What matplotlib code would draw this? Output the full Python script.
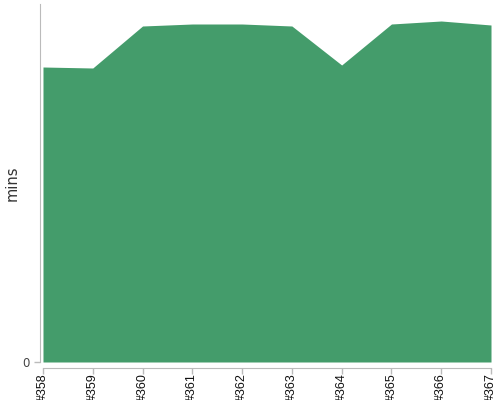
import matplotlib
matplotlib.use('Agg')
import matplotlib.pyplot as plt
import numpy as np

builds = ['#358', '#359', '#360', '#361', '#362', '#363', '#364', '#365', '#366', '#367']
mins = [295, 294, 336, 338, 338, 336, 297, 338, 341, 337]

green = '#449c6b'
grey = '#bbbbbb'

fig = plt.figure(figsize=(5, 4), dpi=100)
ax = fig.add_axes([0.08, 0.095, 0.904, 0.895])

x = np.arange(len(builds))
ax.fill_between(x, 0, mins, color=green, linewidth=0)

ax.set_xlim(-0.06, 9.02)
ax.set_ylim(0, 358)

for s in ['top', 'right']:
    ax.spines[s].set_visible(False)
ax.spines['left'].set_color(grey)
ax.spines['bottom'].set_color(grey)
ax.spines['bottom'].set_position(('outward', 4))
ax.spines['bottom'].set_bounds(0, 9)

# tick styling first, so the label fonts below are not reset
ax.tick_params(axis='both', color=grey, length=4, width=1)
ax.tick_params(axis='x', pad=0, labelrotation=90, labelsize=9,
               labelfontfamily='Liberation Sans', labelcolor='#111111')
ax.tick_params(axis='y', labelsize=8.5, labelcolor='#444444')

ax.set_xticks(x, builds)
ax.set_yticks([0], ['0'])
ax.set_ylabel('mins', fontsize=10.5, color='#333333')
ax.yaxis.set_label_coords(-0.046, 0.5)

fig.savefig('out.png', dpi=100)
